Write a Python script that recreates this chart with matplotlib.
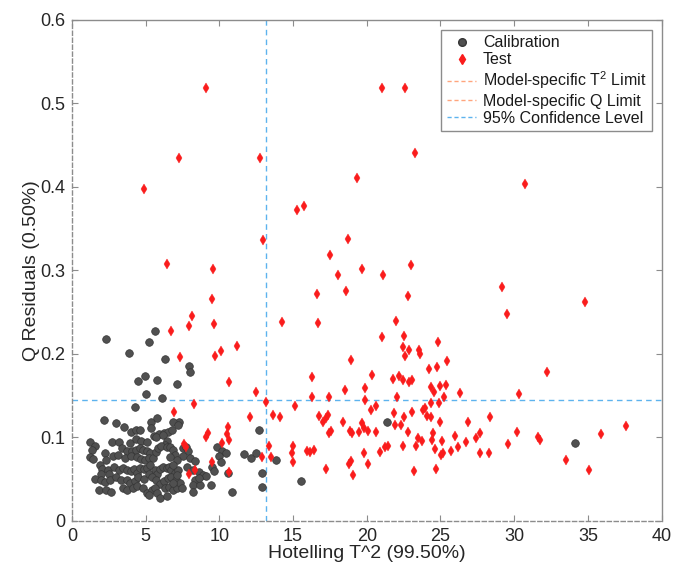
import matplotlib
matplotlib.use("Agg")
import matplotlib.pyplot as plt
from matplotlib.lines import Line2D

plt.rcParams['font.family'] = ['Liberation Sans', 'DejaVu Sans']
plt.rcParams['mathtext.fontset'] = 'custom'
plt.rcParams['mathtext.rm'] = 'Liberation Sans'
plt.rcParams['mathtext.it'] = 'Liberation Sans'

# Calibration samples: Hotelling T^2 and Q residuals
cal_t2 = [2.31, 5.63, 5.23, 3.87, 6.31, 7.94, 8.03, 4.93, 4.46, 5.77, 7.10, 5.05, 6.13, 4.28,
          2.17, 2.99, 5.38, 5.79, 7.29, 3.55, 3.98, 4.32, 4.64, 5.36, 5.54, 5.88, 6.22, 6.54, 6.79,
          1.20, 2.71, 3.21, 3.96, 4.34, 4.68, 5.09, 5.72, 6.18, 6.45, 6.31, 1.56, 1.36, 1.22, 1.45,
          2.22, 2.31, 2.76, 3.10, 3.37, 3.71, 4.07, 4.34, 4.62, 4.82, 5.11, 5.29, 3.60, 4.00, 4.39,
          4.66, 4.95, 5.20, 5.50, 5.70, 5.86, 6.02, 6.43,
          1.88, 2.04, 1.97, 2.42, 2.53, 2.85, 3.21, 3.48, 3.76, 4.00, 4.23, 4.41, 4.64, 4.89, 5.11,
          5.32, 5.63, 5.79, 5.97, 6.20, 6.43, 6.61, 6.72, 6.99, 7.22,
          1.58, 1.97, 2.22, 2.60, 2.99, 3.30, 3.71, 3.94, 4.28, 4.50, 4.89, 5.20, 5.45, 5.70, 5.97,
          6.24, 6.49, 6.72, 7.06,
          1.81, 2.29, 2.62, 3.44, 3.71, 4.12, 4.39, 4.80, 5.07, 5.43, 5.66, 5.79, 6.31, 6.56, 6.88,
          7.15, 5.25, 5.97, 6.47,
          7.51, 7.74, 7.90, 7.56, 8.01, 8.35, 7.83, 8.24, 8.64, 8.91, 9.10, 8.33, 8.19, 9.41, 8.19,
          10.84, 9.82, 10.16, 10.43, 9.99, 10.08, 9.50, 9.62, 10.55, 11.67, 12.14, 12.48, 12.87,
          12.86, 12.70, 13.86, 15.56, 21.34, 34.10, 8.69, 8.62,
          6.65, 6.88, 7.00, 6.65, 7.10, 6.88, 7.10, 7.33, 7.44, 6.85, 6.83, 7.19]
cal_q = [0.218, 0.228, 0.214, 0.201, 0.194, 0.185, 0.179, 0.174, 0.168, 0.169, 0.164, 0.152, 0.147, 0.137,
         0.121, 0.117, 0.118, 0.123, 0.118, 0.112, 0.107, 0.109, 0.109, 0.111, 0.102, 0.104, 0.105, 0.106, 0.109,
         0.095, 0.094, 0.095, 0.093, 0.098, 0.096, 0.095, 0.101, 0.103, 0.096, 0.091, 0.090, 0.085, 0.077, 0.074,
         0.081, 0.073, 0.078, 0.079, 0.087, 0.084, 0.084, 0.085, 0.087, 0.085, 0.084, 0.081, 0.076, 0.078, 0.077,
         0.074, 0.073, 0.075, 0.076, 0.083, 0.087, 0.090, 0.089,
         0.067, 0.062, 0.056, 0.061, 0.056, 0.065, 0.061, 0.063, 0.061, 0.060, 0.062, 0.057, 0.063, 0.062, 0.064,
         0.067, 0.061, 0.056, 0.062, 0.065, 0.063, 0.065, 0.061, 0.058, 0.061,
         0.050, 0.049, 0.047, 0.049, 0.053, 0.049, 0.049, 0.045, 0.048, 0.053, 0.050, 0.056, 0.053, 0.049, 0.044,
         0.048, 0.051, 0.053, 0.049,
         0.037, 0.037, 0.035, 0.039, 0.037, 0.039, 0.042, 0.039, 0.033, 0.037, 0.040, 0.033, 0.039, 0.041, 0.037,
         0.039, 0.031, 0.028, 0.030,
         0.087, 0.089, 0.084, 0.078, 0.075, 0.072, 0.065, 0.061, 0.059, 0.055, 0.054, 0.049, 0.043, 0.043, 0.035,
         0.035, 0.089, 0.084, 0.081, 0.078, 0.071, 0.065, 0.060, 0.058, 0.080, 0.075, 0.081, 0.058,
         0.041, 0.109, 0.073, 0.048, 0.118, 0.093, 0.043, 0.051,
         0.089, 0.085, 0.079, 0.077, 0.073, 0.067, 0.055, 0.045, 0.039, 0.045, 0.119, 0.115]

# Test samples
test_t2 = [9.09, 21.03, 22.59, 7.26, 12.77, 4.86, 23.29, 19.34, 30.73, 15.26, 15.72, 12.98, 18.70, 6.47,
           9.57, 9.50, 17.52, 18.03, 16.62, 18.61, 19.65, 21.08, 23.00, 22.80, 14.23, 16.71, 21.96, 22.50,
           21.03, 29.17, 29.51, 34.78, 32.23, 30.33, 28.38, 27.68, 30.17, 31.63, 31.73, 29.60, 27.68, 28.31,
           35.89, 37.56, 33.49, 35.09, 24.83, 22.48, 22.88, 22.57, 23.54, 23.63, 25.46, 24.20, 24.76, 21.78,
           22.18, 22.46, 22.86, 23.05, 24.36, 24.99, 25.35, 24.54, 25.22, 26.32, 22.07, 24.36, 24.88, 21.82,
           23.07, 23.81, 23.95, 24.08, 24.34, 22.54, 21.93, 22.32, 24.97, 26.87, 22.80, 24.47, 26.00, 24.44,
           25.12, 23.47, 23.74, 27.39, 26.75, 21.26, 21.44, 22.46, 23.32, 24.61, 26.17, 20.90, 25.01, 25.19,
           25.69, 23.18, 24.67, 18.91, 16.30, 19.86, 18.50, 16.26, 17.42, 13.14, 19.90, 15.11, 13.64, 14.13,
           16.76, 17.39, 17.21, 17.03, 18.41, 19.65, 19.83, 18.86, 18.98, 19.45, 17.42, 17.59, 13.39, 15.01,
           12.89, 13.52, 14.95, 15.94, 16.13, 16.42, 14.97, 17.25, 18.91, 18.81, 19.06, 19.79, 20.06, 20.33,
           20.62, 20.28, 20.10, 20.64, 6.74, 7.92, 8.16, 9.65, 7.33, 9.70, 10.13, 11.19, 10.63, 12.50, 8.28,
           6.92, 12.08, 9.11, 9.23, 10.60, 10.54, 10.67, 10.20, 7.62, 7.73, 9.48, 7.96, 8.32, 10.65]
test_q = [0.518, 0.519, 0.519, 0.435, 0.435, 0.398, 0.441, 0.411, 0.404, 0.372, 0.377, 0.336, 0.338, 0.308,
          0.302, 0.266, 0.319, 0.295, 0.272, 0.275, 0.302, 0.294, 0.307, 0.270, 0.238, 0.237, 0.240, 0.222,
          0.220, 0.280, 0.248, 0.262, 0.178, 0.152, 0.125, 0.105, 0.107, 0.100, 0.097, 0.092, 0.082, 0.082,
          0.104, 0.114, 0.073, 0.061, 0.214, 0.208, 0.205, 0.198, 0.205, 0.200, 0.192, 0.182, 0.184, 0.170,
          0.174, 0.169, 0.166, 0.169, 0.161, 0.162, 0.163, 0.155, 0.149, 0.153, 0.149, 0.141, 0.141, 0.129,
          0.131, 0.133, 0.135, 0.126, 0.125, 0.125, 0.115, 0.115, 0.119, 0.118, 0.106, 0.105, 0.102, 0.097,
          0.096, 0.099, 0.096, 0.099, 0.095, 0.088, 0.090, 0.090, 0.090, 0.086, 0.088, 0.083, 0.079, 0.082,
          0.084, 0.060, 0.062, 0.193, 0.172, 0.159, 0.157, 0.149, 0.149, 0.142, 0.145, 0.138, 0.127, 0.124,
          0.126, 0.127, 0.123, 0.119, 0.118, 0.117, 0.111, 0.108, 0.105, 0.107, 0.105, 0.108, 0.090, 0.090,
          0.077, 0.077, 0.081, 0.084, 0.083, 0.085, 0.071, 0.062, 0.072, 0.068, 0.055, 0.081, 0.068, 0.175,
          0.138, 0.133, 0.108, 0.106, 0.228, 0.234, 0.245, 0.236, 0.196, 0.198, 0.203, 0.209, 0.166, 0.155,
          0.140, 0.130, 0.125, 0.101, 0.105, 0.112, 0.104, 0.097, 0.093, 0.092, 0.089, 0.071, 0.056, 0.061,
          0.059]

# 95% confidence limits
t2_limit = 13.16
q_limit = 0.145

x_ticks = [0, 5, 10, 15, 20, 25, 30, 35, 40]
y_ticks = [0, 0.1, 0.2, 0.3, 0.4, 0.5, 0.6]

CAL_FACE = '#505050'
CAL_EDGE = '#363636'
TEST_RED = '#fa1c1c'
CONF_BLUE = '#5db3ee'
LIMIT_ORANGE = '#ffa57d'
AXIS_GRAY = '#8c8c8c'

fig = plt.figure(figsize=(6.73, 5.70), dpi=100)
ax = fig.add_axes([0.107, 0.086, 0.876, 0.879])

ax.plot(cal_t2, cal_q, linestyle='none', marker='o', markersize=5.5,
        markerfacecolor=CAL_FACE, markeredgecolor=CAL_EDGE, markeredgewidth=0.5, zorder=3)
ax.plot(test_t2, test_q, linestyle='none', marker='d', markersize=5.3,
        markerfacecolor=TEST_RED, markeredgecolor=TEST_RED, markeredgewidth=0.3, zorder=4)

ax.axvline(t2_limit, color=CONF_BLUE, linestyle=(0, (4, 3)), linewidth=1.0, zorder=2)
ax.axhline(q_limit, color=CONF_BLUE, linestyle=(0, (4, 3)), linewidth=1.0, zorder=2)

ax.set_xlim(0, 40)
ax.set_ylim(0, 0.6)
ax.set_xticks(x_ticks)
ax.set_yticks(y_ticks)
ax.set_xticklabels([str(v) for v in x_ticks])
ax.set_yticklabels(['0' if v == 0 else f'{v:.1f}' for v in y_ticks])

ax.tick_params(direction='in', top=True, right=True, length=4, width=0.8,
               color=AXIS_GRAY, labelsize=13, labelcolor='#262626', pad=5)
for side in ['top', 'right']:
    ax.spines[side].set_color(AXIS_GRAY)
    ax.spines[side].set_linewidth(1.0)
for side in ['left', 'bottom']:
    ax.spines[side].set_color(AXIS_GRAY)
    ax.spines[side].set_linewidth(1.0)
    ax.spines[side].set_linestyle((0, (3, 2)))

ax.set_xlabel('Hotelling T^2 (99.50%)', fontsize=14, color='#262626', labelpad=0)
ax.set_ylabel('Q Residuals (0.50%)', fontsize=14, color='#262626', labelpad=0)

handles = [
    Line2D([], [], linestyle='none', marker='o', markersize=5.5,
           markerfacecolor=CAL_FACE, markeredgecolor=CAL_EDGE),
    Line2D([], [], linestyle='none', marker='d', markersize=5.3,
           markerfacecolor=TEST_RED, markeredgecolor=TEST_RED),
    Line2D([], [], color=LIMIT_ORANGE, linestyle=(0, (3, 2)), linewidth=1.0),
    Line2D([], [], color=LIMIT_ORANGE, linestyle=(0, (3, 2)), linewidth=1.0),
    Line2D([], [], color=CONF_BLUE, linestyle=(0, (3, 2)), linewidth=1.0),
]
labels = ['Calibration', 'Test', 'Model-specific T$^2$ Limit',
          'Model-specific Q Limit', '95% Confidence Level']
leg = ax.legend(handles, labels, loc='upper right', bbox_to_anchor=(0.989, 0.987),
                fontsize=11.5, frameon=True, fancybox=False, framealpha=1,
                edgecolor='#8c8c8c', handlelength=1.85, handletextpad=0.4,
                labelspacing=0.14, borderpad=0.35, borderaxespad=0.2)
leg.get_frame().set_linewidth(1.0)
for t in leg.get_texts():
    t.set_color('#1a1a1a')

fig.savefig('out.png', dpi=100)
